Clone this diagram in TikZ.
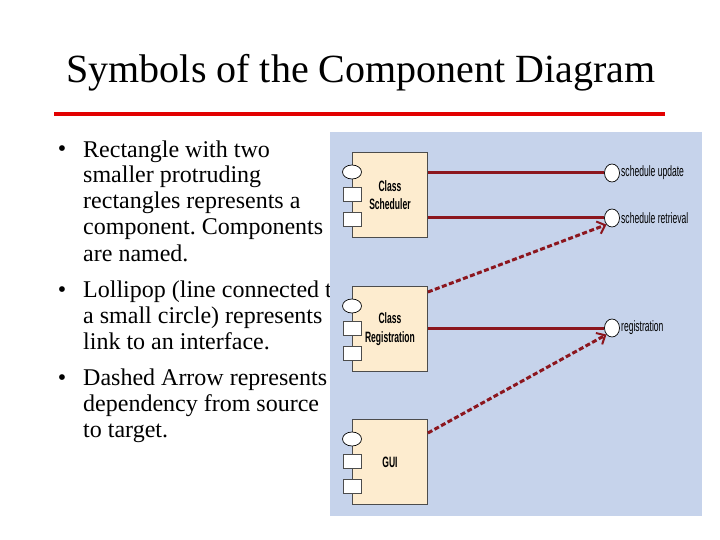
\documentclass[tikz,border=0pt]{standalone}
\usepackage{fontspec}
\setmainfont{Liberation Serif}
\newfontfamily\narrowsans[FakeStretch=0.57]{Liberation Sans}
\usetikzlibrary{shapes.geometric,arrows.meta}
\definecolor{panelblue}{RGB}{198,211,235}
\definecolor{boxfill}{RGB}{253,236,207}
\definecolor{linkred}{RGB}{140,22,30}
\definecolor{titlered}{RGB}{226,0,0}
\frenchspacing

\begin{document}
\begin{tikzpicture}[x=1pt, y=-1pt,
    compbox/.style={draw=black!70, line width=0.9pt, fill=boxfill, minimum width=75pt, minimum height=85pt,
      inner sep=0pt, anchor=north west, align=center, font=\narrowsans\bfseries\fontsize{15}{18.5}\selectfont},
    port/.style={draw=black!70, line width=0.7pt, fill=white, minimum width=18pt, minimum height=14pt, inner sep=0pt},
    knob/.style={ellipse, draw=black, line width=0.7pt, fill=white, minimum width=19pt, minimum height=14pt, inner sep=0pt},
    iface/.style={ellipse, draw=black, line width=0.7pt, fill=white, minimum width=15pt, minimum height=18pt, inner sep=0pt},
    ifacelabel/.style={anchor=west, inner sep=0pt, font=\narrowsans\fontsize{15}{17}\selectfont},
    para/.style={anchor=base west, align=left, inner sep=0pt, font=\fontsize{24}{26}\selectfont},
    dot/.style={anchor=base, inner sep=0pt, font=\fontsize{24}{26}\selectfont},
    link/.style={linkred, line width=3pt},
    dep/.style={linkred, line width=3pt, dash pattern=on 5pt off 2.5pt, -{Straight Barb[length=7pt,width=13pt,line width=2pt]}},
  ]
    % page: 720 x 540, one unit = one pixel
    \fill[white] (0,0) rectangle (720,540);
    \node[anchor=base, inner sep=0pt, font=\fontsize{40}{48}\selectfont] (title) at (361,83) {Symbols of the Component Diagram};
    \draw[titlered, line width=4pt] (54,114) -- (665,114);
    % bullets (a text node sits on its last line)
    \node[dot] (d1) at (62,157) {\textbullet};
    \node[para] (t1) at (83,261) {Rectangle with two\\smaller protruding\\rectangles represents a\\component. Components\\are named.};
    \node[dot] (d2) at (62,297) {\textbullet};
    \node[para] (t2) at (83,349) {Lollipop (line connected to\\a small circle) represents\\link to an interface.};
    \node[dot] (d3) at (62,385) {\textbullet};
    \node[para] (t3) at (83,437) {Dashed Arrow represents\\dependency from source\\to target.};
    % diagram panel, laid over the text
    \fill[panelblue] (330,132) rectangle (702,516);
    \newcommand{\compunit}[3]{
      \node[compbox] (#1) at (352,#2) {#3};
      \node[knob] (#1k) at (352,#2+20) {};
      \node[port] (#1p1) at (352,#2+42) {};
      \node[port] (#1p2) at (352,#2+67.5) {};
    }
    \compunit{sched}{152}{Class\\Scheduler}
    \compunit{reg}{286}{Class\\Registration}
    \compunit{gui}{419}{GUI}
    % interfaces
    \node[iface] (updc) at (612,173) {};
    \node[ifacelabel] (updl) at (621,173) {schedule update};
    \node[iface] (retrc) at (612,218) {};
    \node[ifacelabel] (retrl) at (621,218) {schedule retrieval};
    \node[iface] (regc) at (612,328) {};
    \node[ifacelabel] (regl) at (621,328) {registration};
    % lollipops and dependencies
    \draw[link] (sched.east |- updc) -- (updc.west);
    \draw[link] (sched.east |- retrc) -- (retrc.west);
    \draw[link] (reg.east |- regc) -- (regc.west);
    \draw[dep] ([yshift=-6pt]reg.north east) -- (retrc.south west);
    \draw[dep] ([yshift=-14pt]gui.north east) -- (regc.south west);
\end{tikzpicture}
\end{document}
